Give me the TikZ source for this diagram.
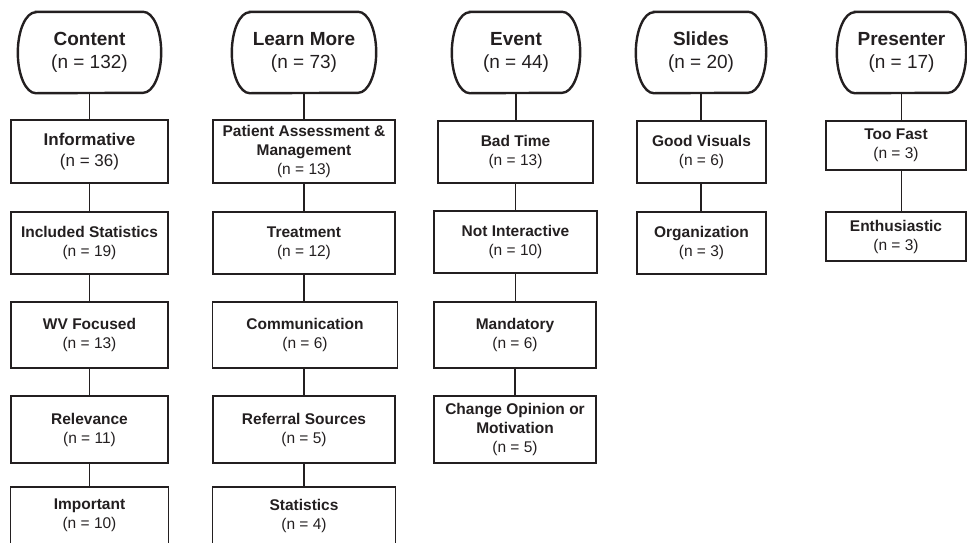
\documentclass[tikz,border=0pt]{standalone}
\usepackage{fontspec}
\setmainfont{Liberation Sans}
\definecolor{ink}{HTML}{231F20}
\newcommand\drawpill[1]{%
  \draw[pillline] ([xshift=18pt]#1.north west) -- ([xshift=-18pt]#1.north east)
    arc[start angle=90,end angle=-90,x radius=18pt,y radius=40.5pt]
    -- ([xshift=18pt]#1.south west)
    arc[start angle=270,end angle=90,x radius=18pt,y radius=40.5pt] -- cycle;}
\newcommand\drawopenbox[1]{%
  \draw[boxline] ([yshift=-20pt]#1.south west) -- (#1.north west) -- (#1.north east) -- ([yshift=-20pt]#1.south east);}
\begin{document}
\begin{tikzpicture}[x=1pt,y=-1pt,
  hd/.style={minimum width=#1, minimum height=81pt, inner sep=0pt, align=center,
    text=ink, font=\fontsize{19}{23}\selectfont},
  pillline/.style={draw=ink, line width=2.4pt},
  boxline/.style={draw=ink, line width=1.4pt},
  box/.style n args={2}{boxline, minimum width=#1, minimum height=#2,
    inner sep=0pt, align=center, text=ink, font=\fontsize{15.5}{19}\selectfont},
  conn/.style={draw=ink, line width=1.5pt}]
\useasboundingbox (0,0) rectangle (967,542);

% Column 1
\node[hd=143pt] (p1) at (89.5,52.5) {\textbf{Content}\\(n = 132)};
\node[box={157pt}{63pt}, font=\fontsize{17}{21}\selectfont] (a1) at (89.5,151.5) {\textbf{Informative}\\(n = 36)};
\node[box={157pt}{62pt}] (a2) at (89.5,243) {\textbf{Included Statistics}\\(n = 19)};
\node[box={157pt}{66pt}] (a3) at (89.5,335) {\textbf{WV Focused}\\(n = 13)};
\node[box={157pt}{67pt}] (a4) at (89.5,429.5) {\textbf{Relevance}\\(n = 11)};
\node[box={157pt}{56pt}, draw=none] (a5) at (89.5,515.5) {\textbf{Important}\\(n = 10)};

% Column 2
\node[hd=144pt] (p2) at (304,52.5) {\textbf{Learn More}\\(n = 73)};
\node[box={182pt}{63pt}] (b1) at (304,151.5) {\textbf{Patient Assessment \&}\\\textbf{Management}\\(n = 13)};
\node[box={182pt}{62pt}] (b2) at (304,243) {\textbf{Treatment}\\(n = 12)};
\node[box={185pt}{66pt}] (b3) at (305,335) {\textbf{Communication}\\(n = 6)};
\node[box={182pt}{67pt}] (b4) at (304,429.5) {\textbf{Referral Sources}\\(n = 5)};
\node[box={182pt}{56pt}, draw=none] (b5) at (304,515.5) {\textbf{Statistics}\\(n = 4)};

% Column 3
\node[hd=128pt] (p3) at (516,52.5) {\textbf{Event}\\(n = 44)};
\node[box={155pt}{62pt}] (c1) at (515.5,152) {\textbf{Bad Time}\\(n = 13)};
\node[box={163pt}{62pt}] (c2) at (515.5,242) {\textbf{Not Interactive}\\(n = 10)};
\node[box={162pt}{66pt}] (c3) at (515,335) {\textbf{Mandatory}\\(n = 6)};
\node[box={162pt}{67pt}] (c4) at (515,429.5) {\textbf{Change Opinion or}\\\textbf{Motivation}\\(n = 5)};

% Column 4
\node[hd=130pt] (p4) at (701,52.5) {\textbf{Slides}\\(n = 20)};
\node[box={129pt}{62pt}] (d1) at (701.5,152) {\textbf{Good Visuals}\\(n = 6)};
\node[box={129pt}{62pt}] (d2) at (701.5,243) {\textbf{Organization}\\(n = 3)};

% Column 5
\node[hd=129pt] (p5) at (901.5,52.5) {\textbf{Presenter}\\(n = 17)};
\node[box={140pt}{49pt}] (e1) at (896,145.5) {\textbf{Too Fast}\\(n = 3)};
\node[box={140pt}{49pt}] (e2) at (896,236.5) {\textbf{Enthusiastic}\\(n = 3)};

\drawpill{p1}\drawpill{p2}\drawpill{p3}\drawpill{p4}\drawpill{p5}
\drawopenbox{a5}\drawopenbox{b5}

% Connectors
\draw[conn] (p1.south) -- (p1.south |- a1.north);
\draw[conn] (a1.south) -- (a1.south |- a2.north);
\draw[conn] (a2.south) -- (a2.south |- a3.north);
\draw[conn] (a3.south) -- (a3.south |- a4.north);
\draw[conn] (a4.south) -- (a4.south |- a5.north);

\draw[conn] (p2.south) -- (p2.south |- b1.north);
\draw[conn] (p2.south |- b1.south) -- (p2.south |- b2.north);
\draw[conn] (p2.south |- b2.south) -- (p2.south |- b3.north);
\draw[conn] (p2.south |- b3.south) -- (p2.south |- b4.north);
\draw[conn] (p2.south |- b4.south) -- (p2.south |- b5.north);

\draw[conn] (p3.south) -- (p3.south |- c1.north);
\draw[conn] (c1.south) -- (c1.south |- c2.north);
\draw[conn] (c2.south) -- (c2.south |- c3.north);
\draw[conn] (c3.south) -- (c3.south |- c4.north);

\draw[conn] (p4.south) -- (p4.south |- d1.north);
\draw[conn] (p4.south |- d1.south) -- (p4.south |- d2.north);

\draw[conn] (p5.south) -- (p5.south |- e1.north);
\draw[conn] (p5.south |- e1.south) -- (p5.south |- e2.north);
\end{tikzpicture}
\end{document}
